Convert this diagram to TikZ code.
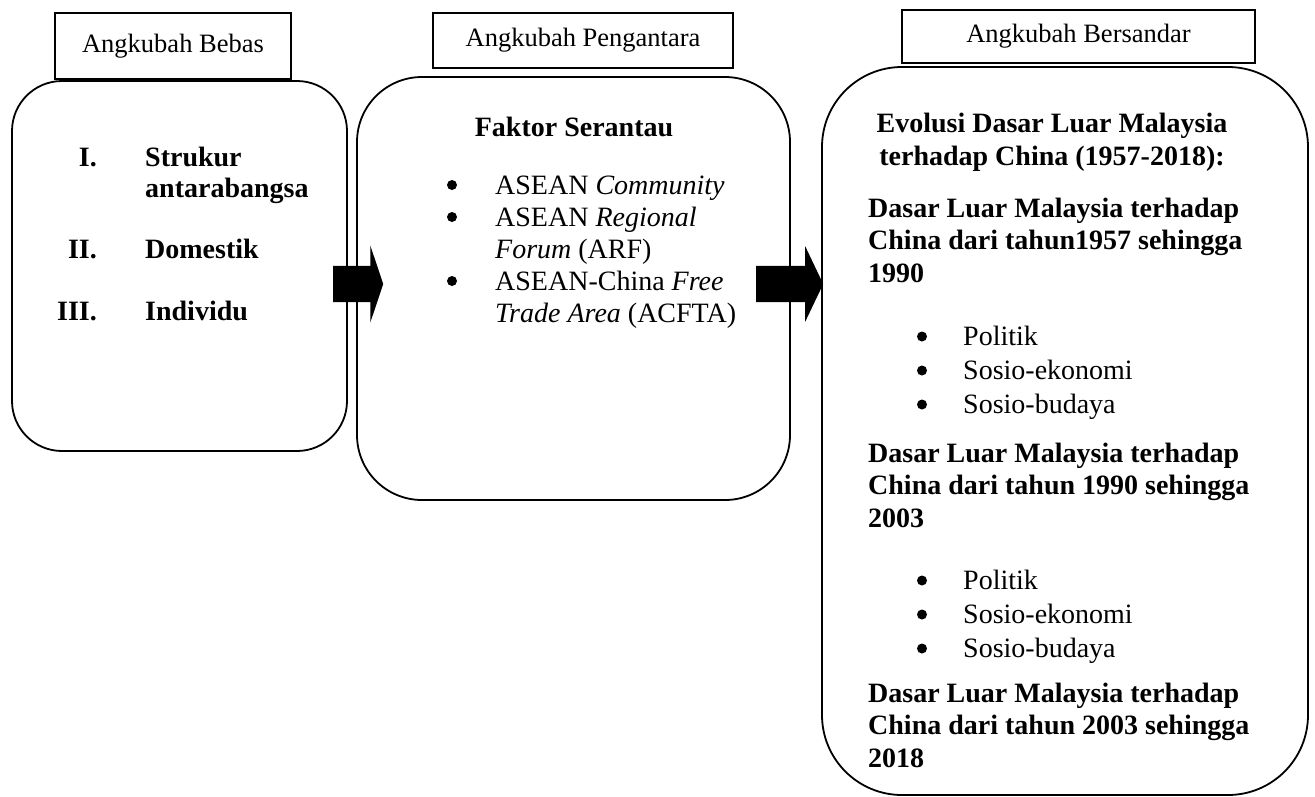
\documentclass[tikz,border=0pt]{standalone}
\usepackage{fontspec}
\setmainfont{Liberation Serif}
\usetikzlibrary{positioning, shapes.arrows}

\newcommand{\bodysize}{\fontsize{28}{32.5}\selectfont}

\begin{document}
\begin{tikzpicture}[x=1pt, y=-1pt,
    label/.style={draw, line width=1.2pt, inner sep=0pt, font=\fontsize{26.5}{30}\selectfont},
    frame/.style={draw, line width=1.8pt, inner sep=0pt},
    txt/.style={inner sep=0pt, font=\bodysize, anchor=base west},
    hd/.style={inner sep=0pt, font=\bodysize\bfseries, anchor=base west, align=left},
    dot/.style={circle, fill=black, inner sep=0pt, minimum size=10pt},
    blockarrow/.style={single arrow, fill=black, inner xsep=0pt, inner ysep=18pt, anchor=tail}]
  \useasboundingbox (0,0) rectangle (1315,796);

  % the three frames
  \node[frame, minimum width=335pt, minimum height=370pt, rounded corners=50pt] (bebasBox) at (179.5,266) {};
  \node[frame, minimum width=433pt, minimum height=423pt, rounded corners=65pt] (antaraBox) at (573.5,288.5) {};
  \node[frame, minimum width=486pt, minimum height=728pt, rounded corners=80pt] (sandarBox) at (1065,431) {};

  % labels on top
  \node[label, minimum width=236pt, minimum height=66pt] (bebas) at (173,46) {Angkubah Bebas};
  \node[label, minimum width=300pt, minimum height=55pt] (antara) at (583,40.5) {Angkubah Pengantara};
  \node[label, minimum width=353pt, minimum height=53pt] (sandar) at (1078.5,36.5) {Angkubah Bersandar};

  % block arrows
  \node[blockarrow, minimum height=50pt, single arrow head extend=20.5pt,
    single arrow tip angle=143] (arrA) at (333,284) {};
  \node[blockarrow, minimum height=67pt, single arrow head extend=19.5pt,
    single arrow tip angle=129] (arrB) at (756,284) {};

  % box 1 (multi-line nodes sit on their last baseline)
  \node[hd, font=\fontsize{28}{31}\selectfont\bfseries] (struktur) at (145,197) {Strukur\\antarabangsa};
  \node[hd, anchor=base east] (numA) at (97,166) {I.};
  \node[hd, anchor=base east] (numB) at (97,258) {II.};
  \node[hd, anchor=base east] (numC) at (97,320) {III.};
  \node[hd] (domestik) at (145,258) {Domestik};
  \node[hd] (individu) at (145,320) {Individu};

  % box 2
  \node[hd, anchor=base] (serantau) at (574,136) {Faktor Serantau};
  \node[dot] (dotA) at (452,185) {};
  \node[dot] (dotB) at (452,217) {};
  \node[dot] (dotC) at (452,281) {};
  \node[txt] (community) at (495,194) {ASEAN \textit{Community}};
  \node[txt, align=left] (arf) at (495,258.5) {ASEAN \textit{Regional}\\\textit{Forum} (ARF)};
  \node[txt, align=left] (acfta) at (495,322.5) {ASEAN-China \textit{Free}\\\textit{Trade Area} (ACFTA)};

  % box 3
  \node[hd, anchor=base, align=center] (evolusi) at (1052,165) {Evolusi Dasar Luar Malaysia\\terhadap China (1957-2018):};
  \node[hd] (fasaA) at (868,282) {Dasar Luar Malaysia terhadap\\China dari tahun1957 sehingga\\1990};
  \node[hd] (fasaB) at (868,527) {Dasar Luar Malaysia terhadap\\China dari tahun 1990 sehingga\\2003};
  \node[hd] (fasaC) at (868,767) {Dasar Luar Malaysia terhadap\\China dari tahun 2003 sehingga\\2018};
  \foreach \y/\t [count=\i] in {345/Politik, 379/Sosio-ekonomi, 413/Sosio-budaya} {
    \node[dot] (dotP\i) at (922,\y-8.5) {};
    \node[txt] (itemP\i) at (963,\y) {\t};
  }
  \foreach \y/\t [count=\i] in {589/Politik, 623/Sosio-ekonomi, 657/Sosio-budaya} {
    \node[dot] (dotQ\i) at (922,\y-8.5) {};
    \node[txt] (itemQ\i) at (963,\y) {\t};
  }
\end{tikzpicture}
\end{document}
